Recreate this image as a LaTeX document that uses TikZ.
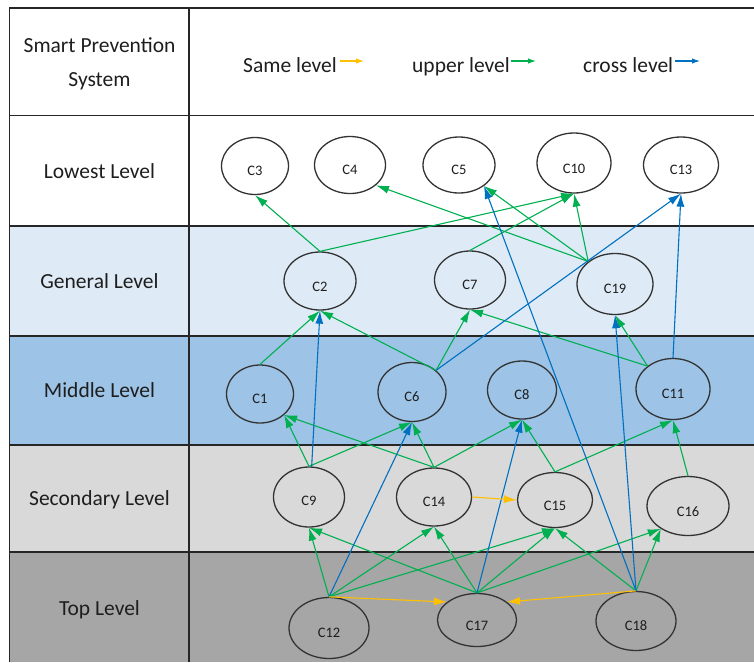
\documentclass[tikz,border=0pt]{standalone}
\usepackage{fontspec}
\setmainfont{Carlito}
\usetikzlibrary{shapes.geometric,arrows.meta}
\definecolor{gA}{HTML}{00B050}
\definecolor{bA}{HTML}{0070C0}
\definecolor{oA}{HTML}{FFC000}
\definecolor{rowGen}{HTML}{DEEBF7}
\definecolor{rowMid}{HTML}{9DC3E6}
\definecolor{rowSec}{HTML}{D9D9D9}
\definecolor{rowTop}{HTML}{A6A6A6}
\definecolor{ink}{HTML}{1E1E1E}
\definecolor{ringc}{HTML}{333333}
\tikzset{
  cnode/.style={ellipse, draw=ringc, line width=1.3pt, inner sep=0pt},
  clab/.style={font=\fontsize{14.5}{16}\selectfont, text=ink},
  rowlab/.style={font=\fontsize{21.5}{25}\selectfont, text=ink, anchor=base},
  gridline/.style={draw=black!85, line width=1.2pt},
  conn/.style={line width=1.1pt, -{Latex[length=13pt,width=8pt]}},
  upA/.style={conn, color=gA},
  crossA/.style={conn, color=bA},
  sameA/.style={conn, color=oA},
  legA/.style={line width=1.1pt, -{Latex[length=8pt,width=5.5pt]}},
}
\begin{document}
\begin{tikzpicture}[x=1pt,y=-1pt]
\useasboundingbox (0,0) rectangle (754,662);
% row backgrounds
\fill[rowGen] (9.5,226) rectangle (754,336);
\fill[rowMid] (9.5,336) rectangle (754,445);
\fill[rowSec] (9.5,445) rectangle (754,552);
\fill[rowTop] (9.5,552) rectangle (754,662);
% grid
\draw[gridline] (754,8) -- (9.5,8) -- (9.5,662);
\draw[gridline] (189,8) -- (189,662);
\foreach \yy in {115.5,226,336,445,552}{\draw[gridline] (9.5,\yy) -- (754,\yy);}
% header texts
\node[rowlab] (hdrA) at (99.5,52) {Smart Prevention};
\node[rowlab] (hdrB) at (99.5,86.5) {System};
\node[rowlab] (rLow) at (99.5,178) {Lowest Level};
\node[rowlab] (rGen) at (99.5,288) {General Level};
\node[rowlab] (rMid) at (99.5,397) {Middle Level};
\node[rowlab] (rSec) at (99.5,505) {Secondary Level};
\node[rowlab] (rTop) at (99.5,615) {Top Level};
% legend
\node[rowlab, anchor=base west, inner sep=0pt] (lgS) at (243,72) {Same level};
\node[rowlab, anchor=base west, inner sep=0pt] (lgU) at (412,72) {upper level};
\node[rowlab, anchor=base west, inner sep=0pt] (lgC) at (583,72) {cross level};
\coordinate (lgS1) at (340,61); \coordinate (lgS2) at (364,61);
\coordinate (lgU1) at (511,61); \coordinate (lgU2) at (536,61);
\coordinate (lgC1) at (675,61); \coordinate (lgC2) at (700,61);
\draw[legA, color=oA] (lgS1) -- (lgS2);
\draw[legA, color=gA] (lgU1) -- (lgU2);
\draw[legA, color=bA] (lgC1) -- (lgC2);
% nodes
\node[cnode, minimum width=67pt, minimum height=57pt, label={[clab, yshift=-5pt]center:C3}] (C3) at (255,166) {};
\node[cnode, minimum width=71pt, minimum height=57pt, label={[clab, yshift=-5pt]center:C4}] (C4) at (350,165) {};
\node[cnode, minimum width=72pt, minimum height=56pt, label={[clab, yshift=-5pt]center:C5}] (C5) at (459,165) {};
\node[cnode, minimum width=74pt, minimum height=60pt, label={[clab, yshift=-6pt]center:C10}] (C10) at (574,163) {};
\node[cnode, minimum width=75pt, minimum height=56pt, label={[clab, yshift=-5pt]center:C13}] (C13) at (681,165) {};
\node[cnode, minimum width=72pt, minimum height=58pt, label={[clab, yshift=-6pt]center:C2}] (C2) at (320,281) {};
\node[cnode, minimum width=71pt, minimum height=58pt, label={[clab, yshift=-5pt]center:C7}] (C7) at (470,280) {};
\node[cnode, minimum width=76pt, minimum height=61pt, label={[clab, yshift=-5pt]center:C19}] (C19) at (615,284) {};
\node[cnode, minimum width=67pt, minimum height=58pt, label={[clab, yshift=-5pt]center:C1}] (C1) at (260,394) {};
\node[cnode, minimum width=68pt, minimum height=59pt, label={[clab, yshift=-5pt]center:C6}] (C6) at (412,392) {};
\node[cnode, minimum width=69pt, minimum height=58pt, label={[clab, yshift=-5pt]center:C8}] (C8) at (522,390) {};
\node[cnode, minimum width=74pt, minimum height=61pt, label={[clab, yshift=-5pt]center:C11}] (C11) at (673,389) {};
\node[cnode, minimum width=71pt, minimum height=60pt, label={[clab, yshift=-4pt]center:C9}] (C9) at (309,497) {};
\node[cnode, minimum width=75pt, minimum height=58pt, label={[clab, yshift=-5pt]center:C14}] (C14) at (434,497) {};
\node[cnode, minimum width=75pt, minimum height=55pt, label={[clab, yshift=-6pt]center:C15}] (C15) at (555,500) {};
\node[cnode, minimum width=82pt, minimum height=59pt, label={[clab, yshift=-6pt]center:C16}] (C16) at (688,506) {};
\node[cnode, minimum width=80pt, minimum height=61pt, label={[clab, yshift=-5pt]center:C12}] (C12) at (329,628) {};
\node[cnode, minimum width=79pt, minimum height=53pt, label={[clab, yshift=-6pt]center:C17}] (C17) at (477,620) {};
\node[cnode, minimum width=80pt, minimum height=59pt, label={[clab, yshift=-5pt]center:C18}] (C18) at (636,621) {};
% upper level (green)
\draw[upA] (C2.north) -- (C3.south);
\draw[upA] (C2.north) -- (C10.south);
\draw[upA] (C7.north) -- (C10.south);
\draw[upA] (C19.140) -- (C10.south);
\draw[upA] (C19.140) -- (C5.-40);
\draw[upA] (C19.140) -- (C4.-38);
\draw[upA] (C1.north) -- (C2.south);
\draw[upA] (C6.42) -- (C2.south);
\draw[upA] (C6.42) -- (C7.south);
\draw[upA] (C11.138) -- (C7.south);
\draw[upA] (C11.138) -- (C19.south);
\draw[upA] (C9.north) -- (C1.-41);
\draw[upA] (C14.north) -- (C1.-41);
\draw[upA] (C9.north) -- (C6.south);
\draw[upA] (C14.north) -- (C6.south);
\draw[upA] (C14.north) -- (C8.south);
\draw[upA] (C15.north) -- (C8.south);
\draw[upA] (C15.north) -- (C11.south);
\draw[upA] (C16.north) -- (C11.south);
\draw[upA] (C12.north) -- (C9.south);
\draw[upA] (C12.north) -- (C14.south);
\draw[upA] (C12.north) -- (C15.south);
\draw[upA] (C17.north) -- (C9.south);
\draw[upA] (C17.north) -- (C14.south);
\draw[upA] (C17.north) -- (C15.south);
\draw[upA] (C17.north) -- (C16.220);
\draw[upA] (C18.north) -- (C15.south);
\draw[upA] (C18.north) -- (C16.220);
% cross level (blue)
\draw[crossA] (C9.85) -- (C2.south);
\draw[crossA] (C6.42) -- (C13.south);
\draw[crossA] (C11.north) -- (C13.south);
\draw[crossA] (C18.north) -- (C5.-40);
\draw[crossA] (C18.north) -- (C19.south);
\draw[crossA] (C12.north) -- (C6.south);
\draw[crossA] (C17.north) -- (C8.south);
% same level (orange)
\draw[sameA] (C12.north) -- (C17.149);
\draw[sameA] (C18.north) -- (C17.31);
\draw[sameA] (C14.east) -- (C15.west);
\end{tikzpicture}
\end{document}
